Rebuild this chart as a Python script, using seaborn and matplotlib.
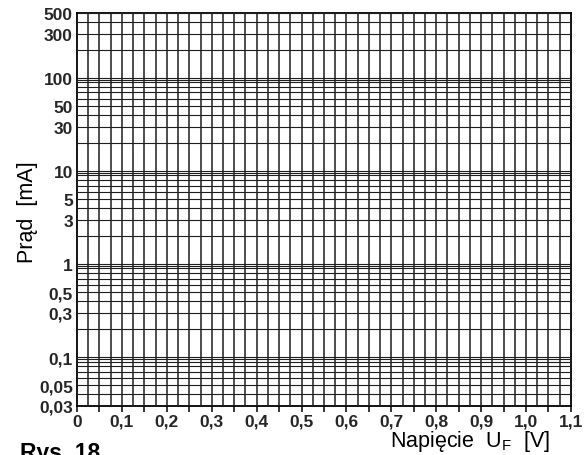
import matplotlib
matplotlib.use('Agg')
import matplotlib.pyplot as plt
import seaborn as sns
from matplotlib.ticker import FixedLocator, MultipleLocator, FuncFormatter

sns.set_theme(style='white')
plt.rcParams['font.family'] = ['Liberation Sans', 'DejaVu Sans']

# dane siatki
voltage_min, voltage_max = 0.0, 1.1
current_min, current_max = 0.03, 500
voltage_labels = ['0', '0,1', '0,2', '0,3', '0,4', '0,5', '0,6', '0,7', '0,8', '0,9', '1,0', '1,1']
current_ticks = [0.03, 0.05, 0.1, 0.3, 0.5, 1, 3, 5, 10, 30, 50, 100, 300, 500]
current_labels = ['0,03', '0,05', '0,1', '0,3', '0,5', '1', '3', '5', '10', '30', '50', '100', '300', '500']
decades = [0.01, 0.1, 1, 10, 100]
minor_steps = [1, 2, 3, 4, 5, 6, 7, 8, 9, 9.5]
voltage_grid_step = 0.025
voltage_tick_step = 0.05

grid_color = '#1e1e1e'
fts_tick = 12.5
fts_label = 15.5

fig = plt.figure(figsize=(5.88, 4.56), dpi=100)
ax = fig.add_axes([0.131, 0.1075, 0.84, 0.862])
ax.set_yscale('log')
ax.set_xlim(voltage_min, voltage_max)
ax.set_ylim(current_min, current_max)

# os X: kreski co 0.05, opisy co 0.1, siatka co 0.025
ax.xaxis.set_major_locator(MultipleLocator(voltage_tick_step))
ax.xaxis.set_minor_locator(MultipleLocator(voltage_grid_step))

def volt_fmt(v, pos):
    k = round(v / 0.1, 6)
    if abs(k - round(k)) < 1e-6 and 0 <= int(round(k)) < len(voltage_labels):
        return voltage_labels[int(round(k))]
    return ''

ax.xaxis.set_major_formatter(FuncFormatter(volt_fmt))

# os Y: logarytmiczna
grid_vals = sorted({round(d * s, 6) for d in decades for s in minor_steps
                    if current_min <= d * s <= current_max})
minor_vals = [v for v in grid_vals if v not in current_ticks]
ax.yaxis.set_major_locator(FixedLocator(current_ticks))
ax.yaxis.set_major_formatter(FuncFormatter(lambda v, pos: current_labels[pos] if pos is not None and pos < len(current_labels) else ''))
ax.yaxis.set_minor_locator(FixedLocator(minor_vals))
ax.yaxis.set_minor_formatter(FuncFormatter(lambda v, pos: ''))

ax.grid(which='both', axis='x', color=grid_color, linewidth=1.1)
ax.grid(which='both', axis='y', color=grid_color, linewidth=0.8)
ax.set_axisbelow(False)

ax.tick_params(axis='x', which='major', direction='out', length=4.5, width=1.1,
               color='black', pad=1.0, labelsize=fts_tick, bottom=True)
ax.tick_params(axis='x', which='minor', length=0)
ax.tick_params(axis='y', which='both', length=0, pad=3, labelsize=fts_tick, left=True)
for lab in ax.get_xticklabels() + ax.get_yticklabels():
    lab.set_fontweight('bold')

for sp in ax.spines.values():
    sp.set_visible(True)
    sp.set_color('black')
    sp.set_linewidth(1.3)

ax.set_xlabel('')
ax.set_ylabel('')

fig.text(27 / 588, 1 - 212 / 456, 'Prąd  [mA]', rotation=90, ha='center', va='center',
         fontsize=fts_label, color='black')
fig.text(470 / 588, 1 - 447 / 456, 'Napięcie  U$_{\\mathregular{F}}$  [V]', ha='center',
         va='baseline', fontsize=fts_label, color='black')
fig.text(20 / 588, 1 - 442 / 456, 'Rys. 18', ha='left', va='top', fontsize=16.5,
         fontweight='bold', color='black')

fig.savefig('out.png', dpi=100)
